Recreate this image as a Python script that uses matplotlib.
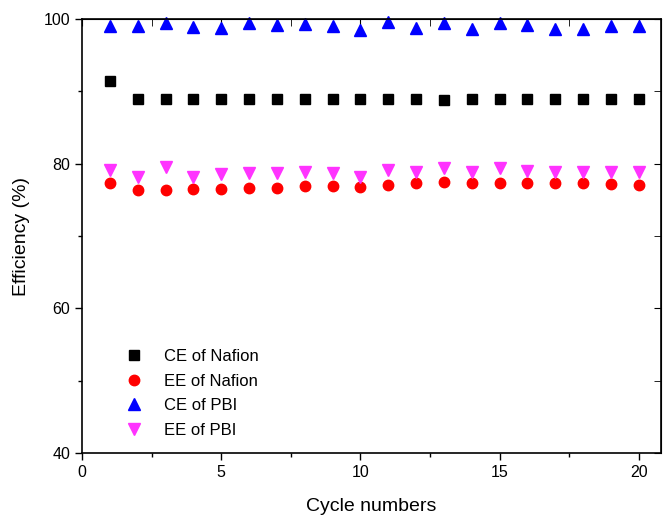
import numpy as np
import matplotlib
matplotlib.use('Agg')
import matplotlib.pyplot as plt
from matplotlib.ticker import MultipleLocator

plt.rcParams['font.family'] = ['Liberation Sans', 'DejaVu Sans']

# data
cycles = list(range(1, 21))
ce_nafion = [91.4, 88.9, 88.9, 88.9, 88.9, 88.9, 88.9, 88.9, 88.9, 88.9,
             88.9, 88.9, 88.8, 88.9, 88.9, 88.9, 88.9, 88.9, 88.9, 88.9]
ee_nafion = [77.4, 76.3, 76.4, 76.5, 76.5, 76.6, 76.7, 76.9, 76.9, 76.8,
             77.0, 77.4, 77.5, 77.4, 77.3, 77.3, 77.3, 77.3, 77.2, 77.1]
ce_pbi = [99.0, 99.0, 99.5, 98.9, 98.8, 99.4, 99.2, 99.3, 99.0, 98.5,
          99.6, 98.8, 99.4, 98.7, 99.5, 99.2, 98.7, 98.7, 99.0, 99.0]
ee_pbi = [79.1, 78.1, 79.5, 78.2, 78.6, 78.7, 78.7, 78.8, 78.7, 78.2,
          79.2, 78.9, 79.4, 78.9, 79.4, 79.0, 78.8, 78.8, 78.9, 78.9]

fig = plt.figure(figsize=(6.64, 5.17), dpi=100)
ax = fig.add_axes([0.1235, 0.124, 0.872, 0.839])

ax.plot(cycles, ce_nafion, 's', color='black', markersize=6.5, label='CE of Nafion', clip_on=False)
ax.plot(cycles, ee_nafion, 'o', color='red', markersize=7.5, label='EE of Nafion', clip_on=False)
ax.plot(cycles, ce_pbi, '^', color='blue', markersize=8, label='CE of PBI', clip_on=False)
ax.plot(cycles, ee_pbi, 'v', color='#ff33ff', markersize=8, label='EE of PBI', clip_on=False)

ax.set_xlim(0, 20.8)
ax.set_ylim(40, 100)
ax.xaxis.set_major_locator(MultipleLocator(5))
ax.xaxis.set_minor_locator(MultipleLocator(2.5))
ax.yaxis.set_major_locator(MultipleLocator(20))
ax.yaxis.set_minor_locator(MultipleLocator(10))
ax.tick_params(which='major', direction='out', length=5, width=1, labelsize=11.5)
ax.tick_params(which='minor', direction='out', length=3, width=1)

# inward ticks on top and right
top = ax.secondary_xaxis('top')
top.xaxis.set_major_locator(MultipleLocator(5))
top.xaxis.set_minor_locator(MultipleLocator(2.5))
top.tick_params(which='both', direction='in', labeltop=False, length=5)
right = ax.secondary_yaxis('right')
right.yaxis.set_major_locator(MultipleLocator(20))
right.yaxis.set_minor_locator(MultipleLocator(10))
right.tick_params(which='both', direction='in', labelright=False, length=5)

for s in ax.spines.values():
    s.set_linewidth(1.2)

ax.set_xlabel('Cycle numbers', fontsize=14, labelpad=13)
ax.set_ylabel('Efficiency (%)', fontsize=14, labelpad=10)

ax.legend(loc='lower left', bbox_to_anchor=(0.035, 0.0), frameon=False,
          fontsize=12, handletextpad=0.8, labelspacing=0.58, borderaxespad=0.5)

fig.savefig('out.png', dpi=100)
